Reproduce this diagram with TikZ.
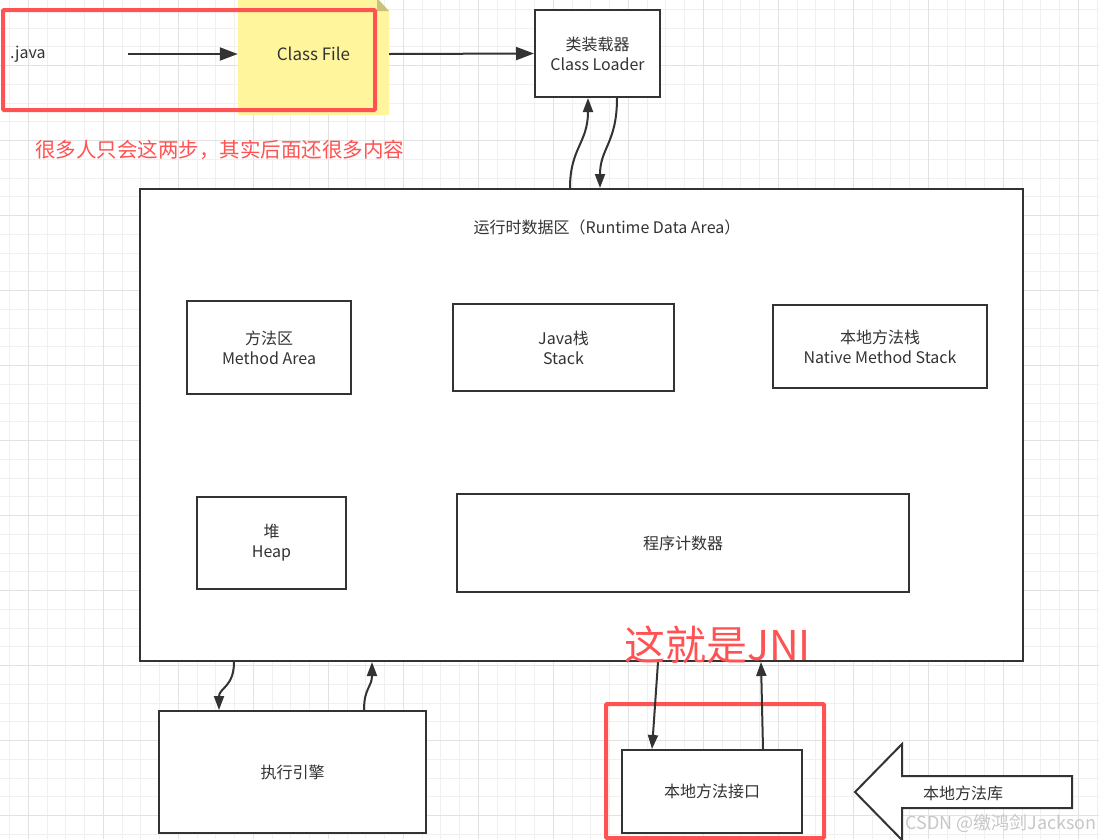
\documentclass[tikz,border=0pt]{standalone}
\usepackage{fontspec}
\setmainfont{Noto Sans CJK SC}
\usetikzlibrary{arrows.meta}
\definecolor{ink}{HTML}{333333}
\definecolor{redm}{HTML}{FF5252}
\definecolor{notey}{HTML}{FFF59D}
\definecolor{notefold}{HTML}{C9C27A}
\definecolor{gridmin}{HTML}{F0F0F0}
\definecolor{gridmaj}{HTML}{E2E2E2}
\tikzset{
  box/.style={draw=ink, line width=2pt, fill=white, text=ink, align=center, inner sep=0pt,
              font=\fontsize{16}{20}\selectfont},
  txt/.style={text=ink, align=center, inner sep=0pt, font=\fontsize{16}{20}\selectfont},
  conn/.style={draw=ink, line width=2pt, -{Triangle[length=14pt,width=10pt]}},
  bigconn/.style={draw=ink, line width=2pt, -{Triangle[length=18pt,width=13pt]}},
  redbox/.style={draw=redm, line width=4pt, rounded corners=1pt},
}
\begin{document}
\begin{tikzpicture}[x=1pt,y=-1pt]
\useasboundingbox (0,0) rectangle (1099,839);
\begin{scope}
\clip (0,0) rectangle (1099,839);
\fill[white] (0,0) rectangle (1099,839);
% grid
\foreach \k in {-2,...,58} {
  \draw[gridmin, line width=1pt] ({28.3+18.75*\k},0) -- ({28.3+18.75*\k},839);
}
\foreach \k in {0,...,46} {
  \draw[gridmin, line width=1pt] (0,{-9.3+18.75*\k}) -- (1099,{-9.3+18.75*\k});
}
\foreach \k in {-1,...,14} {
  \draw[gridmaj, line width=1pt] ({28.3+75*\k},0) -- ({28.3+75*\k},839);
}
\foreach \k in {0,...,12} {
  \draw[gridmaj, line width=1pt] (0,{-9.3+75*\k}) -- (1099,{-9.3+75*\k});
}
\end{scope}

% sticky note "Class File"
\fill[notey] (238,-2) -- (377,-2) -- (389,11) -- (389,115) -- (238,115) -- cycle;
\fill[notefold] (377,-2) -- (389,11) -- (377,11) -- cycle;
\node[txt, minimum width=151pt, minimum height=108pt, font=\fontsize{17}{20}\selectfont] (cf) at (313.5,54) {Class File};

% .java
\node[txt, anchor=west] (java) at (10,54) {.java};
\coordinate (jstart) at (128,54);

% class loader
\node[box, minimum width=125pt, minimum height=87pt] (cl) at (597.5,53.5) {类装载器\\Class Loader};

% red frame 1
\draw[redbox] (3,10) rectangle (375,110);
\node[anchor=west, text=redm, inner sep=0pt, font=\fontsize{20.5}{24}\selectfont] (note1) at (35,150) {很多人只会这两步，其实后面还很多内容};

% arrows top
\draw[bigconn] (jstart) -- (cf.west);
\draw[bigconn] (cf.east) -- (cl.west);

% runtime data area
\node[box, minimum width=883pt, minimum height=472pt] (rt) at (581.5,425) {};
\node[txt] (rttitle) at (607,227) {运行时数据区（Runtime Data Area）};

\node[box, minimum width=164pt, minimum height=93pt] (ma) at (269,347.5) {方法区\\Method Area};
\node[box, minimum width=221pt, minimum height=87pt] (js) at (563.5,347.5) {Java栈\\Stack};
\node[box, minimum width=214pt, minimum height=83pt] (nms) at (880,346.5) {本地方法栈\\Native Method Stack};
\node[box, minimum width=149pt, minimum height=92pt] (heap) at (271.5,543) {堆\\Heap};
\node[box, minimum width=452pt, minimum height=98pt] (pc) at (683,543) {程序计数器};

% class loader <-> runtime
\draw[conn] ([xshift=431pt]rt.north west) .. controls ++(0,-40) and ++(0,45) .. ([xshift=-9.5pt]cl.south);
\draw[conn] ([xshift=19.5pt]cl.south) .. controls ++(0,45) and ++(0,-40) .. ([xshift=461pt]rt.north west);

% execution engine
\node[box, minimum width=267pt, minimum height=122pt] (ee) at (292.5,772) {执行引擎};
\draw[conn] ([xshift=95pt]rt.south west) .. controls ++(0,25) and ++(0,-22) .. ([xshift=-73.5pt]ee.north);
\draw[conn] ([xshift=71.5pt]ee.north) .. controls ++(0,-22) and ++(0,25) .. ([xshift=233pt]rt.south west);

% native method interface
\draw[redbox] (606,704) rectangle (824,838);
\node[box, minimum width=180pt, minimum height=83pt] (nmi) at (712,791.5) {本地方法接口};
\draw[conn] ([xshift=519pt]rt.south west) -- ([xshift=-60pt]nmi.north);
\draw[conn] ([xshift=51pt]nmi.north) -- ([xshift=622pt]rt.south west);

\node[anchor=west, text=redm, inner sep=0pt, font=\fontsize{41}{44}\selectfont] (jni) at (624,645) {这就是JNI};

% native library big arrow
\draw[draw=ink, line width=2pt, fill=white, line join=miter]
  (855,792) -- (902,744) -- (902,776) -- (1072,776) -- (1072,808) -- (902,808) -- (902,840) -- cycle;
\node[txt] (nlib) at (963,793) {本地方法库};

% watermark
\node[anchor=east, text=black!22, inner sep=0pt, font=\fontsize{18}{20}\selectfont] (wm) at (1097,823) {CSDN @缴鸿剑Jackson};
\end{tikzpicture}
\end{document}
